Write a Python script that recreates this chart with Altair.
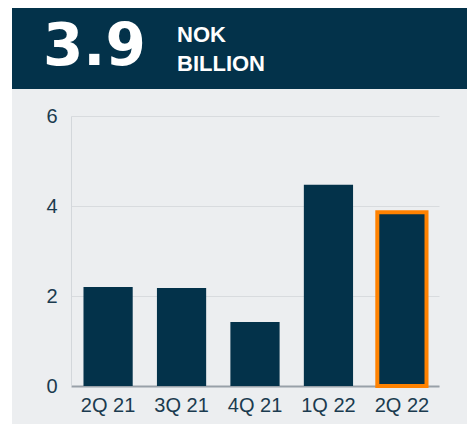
import altair as alt
import pandas as pd

quarters = ["2Q 21", "3Q 21", "4Q 21", "1Q 22", "2Q 22"]
values = [2.2, 2.18, 1.42, 4.47, 3.86]
headline = "3.9"
unit_lines = ["NOK", "BILLION"]
highlight = "2Q 22"

NAVY = "#03324a"
GRAY_BG = "#eceef0"
ORANGE = "#ff8200"
TEXT = "#1b3b4f"

df = pd.DataFrame({"quarter": quarters, "value": values})
one = alt.Data(values=[{"k": 0}])

white_strip = alt.Chart(one).mark_rect(color="white").encode(
    x=alt.value(-63), x2=alt.value(-59), y=alt.value(-110), y2=alt.value(316)
)
header = alt.Chart(one).mark_rect(color=NAVY).encode(
    x=alt.value(-59), x2=alt.value(404), y=alt.value(-110), y2=alt.value(-27)
)
big = alt.Chart(one).mark_text(
    text=headline, font="DejaVu Sans", fontWeight="bold", fontSize=58,
    color="white", align="left", baseline="alphabetic"
).encode(x=alt.value(-28), y=alt.value(-51))
unit1 = alt.Chart(one).mark_text(
    text=unit_lines[0], font="Liberation Sans", fontWeight="bold", fontSize=22,
    color="white", align="left", baseline="alphabetic"
).encode(x=alt.value(106), y=alt.value(-74))
unit2 = alt.Chart(one).mark_text(
    text=unit_lines[1], font="Liberation Sans", fontWeight="bold", fontSize=22,
    color="white", align="left", baseline="alphabetic"
).encode(x=alt.value(106), y=alt.value(-45))

bars = alt.Chart(df).mark_bar(color=NAVY, strokeWidth=4).encode(
    x=alt.X("quarter:N", sort=quarters, title=None,
            scale=alt.Scale(paddingInner=0.33, paddingOuter=0.17),
            axis=alt.Axis(labelAngle=0, labelFontSize=20, labelColor=TEXT,
                          labelFont="Liberation Sans", labelPadding=9,
                          ticks=False, domainColor="#98a0a8", domainWidth=2,
                          grid=False)),
    y=alt.Y("value:Q", title=None,
            scale=alt.Scale(domain=[0, 6], nice=False),
            axis=alt.Axis(values=[0, 2, 4, 6], labelFontSize=20, labelColor=TEXT,
                          labelFont="Liberation Sans", labelPadding=14,
                          ticks=False, domainColor="#d3d7db", domainWidth=1,
                          gridColor="#d8dbde", gridWidth=1)),
    stroke=alt.condition(alt.datum.quarter == highlight, alt.value(ORANGE), alt.value("transparent")),
)

chart = alt.layer(white_strip, header, big, unit1, unit2, bars).properties(
    width=368, height=270,
    padding={"left": 63, "top": 108, "right": 28, "bottom": 38},
    autosize=alt.AutoSizeParams(type="none"),
    background=GRAY_BG,
).configure_view(stroke=None)

chart.save("out.html", embed_options={"renderer": "svg", "actions": False})
